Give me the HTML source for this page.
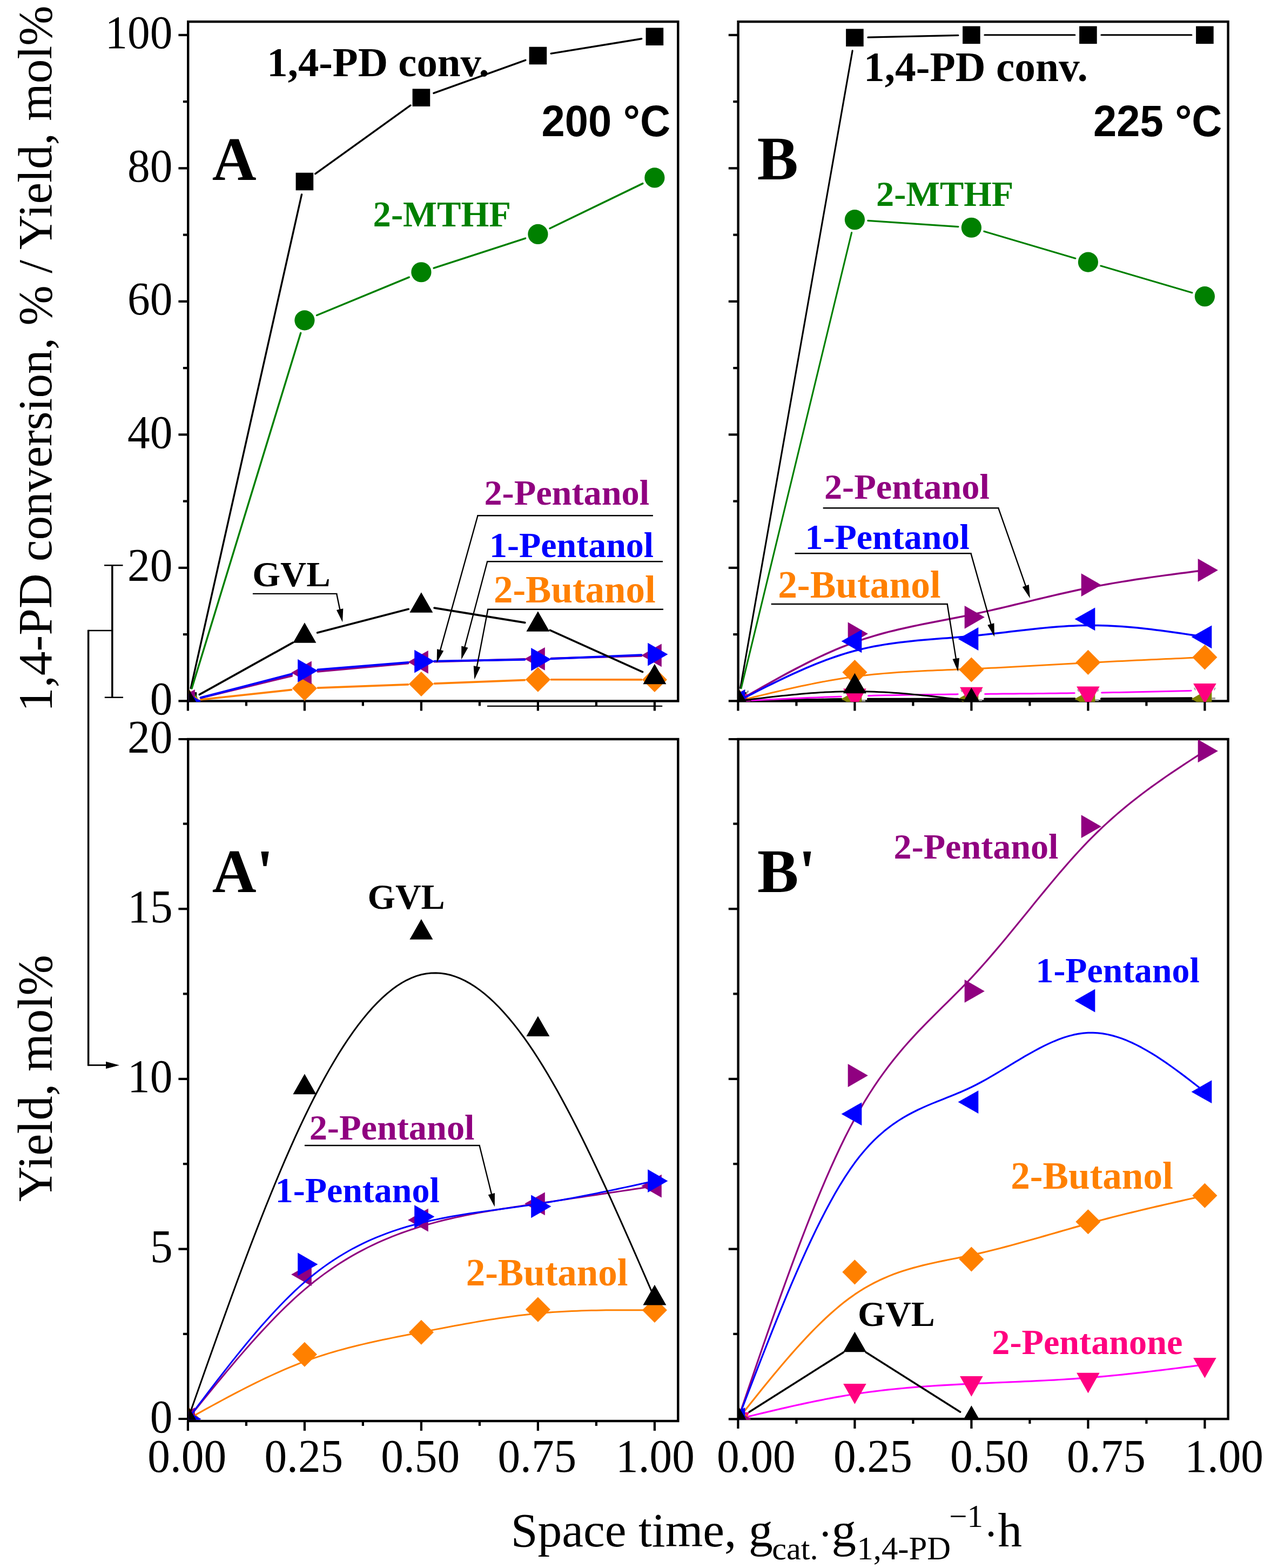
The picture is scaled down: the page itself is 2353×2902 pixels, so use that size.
<!DOCTYPE html><html lang="en"><head><meta charset="utf-8"><title>1,4-PD conversion and product yields vs. space time</title>
<style>html,body{margin:0;padding:0;background:#fff}svg{display:block}</style></head><body>
<svg width="2353" height="2902" viewBox="0 0 2353 2902">
<rect width="2353" height="2902" fill="#fff"/>
<defs><clipPath id="cA"><rect x="349.6" y="38.2" width="907.6" height="1260.7"/></clipPath><clipPath id="cB"><rect x="1368" y="38.2" width="907.5" height="1260.7"/></clipPath><clipPath id="cA2"><rect x="349.6" y="1366.1" width="907.6" height="1261.7"/></clipPath><clipPath id="cB2"><rect x="1368" y="1366.1" width="907.5" height="1261.7"/></clipPath></defs>
<rect x="348.2" y="40.1" width="907.1" height="1257.4" fill="none" stroke="#000" stroke-width="4.4"/><path d="M330.4 1297.4H348.2M330.4 1050.88H348.2M330.4 804.36H348.2M330.4 557.84H348.2M330.4 311.32H348.2M330.4 64.8H348.2M338.9 1174.14H348.2M338.9 927.62H348.2M338.9 681.1H348.2M338.9 434.58H348.2M338.9 188.06H348.2M347.9 1297.5V1315.5M455.9 1297.5V1306.5M563.9 1297.5V1315.5M671.9 1297.5V1306.5M779.9 1297.5V1315.5M887.9 1297.5V1306.5M995.9 1297.5V1315.5M1103.9 1297.5V1306.5M1211.9 1297.5V1315.5" fill="none" stroke="#000" stroke-width="4.2"/>
<rect x="1366.6" y="40.1" width="907" height="1257.4" fill="none" stroke="#000" stroke-width="4.4"/><path d="M1348.8 1297.4H1366.6M1348.8 1050.88H1366.6M1348.8 804.36H1366.6M1348.8 557.84H1366.6M1348.8 311.32H1366.6M1348.8 64.8H1366.6M1357.3 1174.14H1366.6M1357.3 927.62H1366.6M1357.3 681.1H1366.6M1357.3 434.58H1366.6M1357.3 188.06H1366.6M1366.4 1297.5V1315.5M1474.4 1297.5V1306.5M1582.4 1297.5V1315.5M1690.4 1297.5V1306.5M1798.4 1297.5V1315.5M1906.4 1297.5V1306.5M2014.4 1297.5V1315.5M2122.4 1297.5V1306.5M2230.4 1297.5V1315.5" fill="none" stroke="#000" stroke-width="4.2"/>
<rect x="348.2" y="1368" width="907.1" height="1262" fill="none" stroke="#000" stroke-width="4.4"/><path d="M330.4 2626H348.2M330.4 2311.55H348.2M330.4 1996.8H348.2M330.4 1682.05H348.2M330.4 1368H348.2M338.9 2468.93H348.2M338.9 2154.18H348.2M338.9 1839.43H348.2M338.9 1524.68H348.2M347.9 2630V2648M455.9 2630V2639M563.9 2630V2648M671.9 2630V2639M779.9 2630V2648M887.9 2630V2639M995.9 2630V2648M1103.9 2630V2639M1211.9 2630V2648" fill="none" stroke="#000" stroke-width="4.2"/>
<rect x="1366.6" y="1368" width="907" height="1258.1" fill="none" stroke="#000" stroke-width="4.4"/><path d="M1348.8 2626.3H1366.6M1348.8 2311.55H1366.6M1348.8 1996.8H1366.6M1348.8 1682.05H1366.6M1348.8 1368H1366.6M1357.3 2468.93H1366.6M1357.3 2154.18H1366.6M1357.3 1839.43H1366.6M1357.3 1524.68H1366.6M1366.4 2626.1V2644.1M1474.4 2626.1V2635.1M1582.4 2626.1V2644.1M1690.4 2626.1V2635.1M1798.4 2626.1V2644.1M1906.4 2626.1V2635.1M2014.4 2626.1V2644.1M2122.4 2626.1V2635.1M2230.4 2626.1V2644.1" fill="none" stroke="#000" stroke-width="4.2"/>
<text transform="translate(277.77 1321.9) scale(1.0000 1.0360)" font-family="'Liberation Serif','DejaVu Serif',serif" font-size="83.3" fill="#000">0</text>
<text transform="translate(236.12 1075.38) scale(1.0000 1.0360)" font-family="'Liberation Serif','DejaVu Serif',serif" font-size="83.3" fill="#000">20</text>
<text transform="translate(236.12 828.86) scale(1.0000 1.0360)" font-family="'Liberation Serif','DejaVu Serif',serif" font-size="83.3" fill="#000">40</text>
<text transform="translate(236.12 582.34) scale(1.0000 1.0360)" font-family="'Liberation Serif','DejaVu Serif',serif" font-size="83.3" fill="#000">60</text>
<text transform="translate(236.12 335.82) scale(1.0000 1.0360)" font-family="'Liberation Serif','DejaVu Serif',serif" font-size="83.3" fill="#000">80</text>
<text transform="translate(194.47 89.3) scale(1.0000 1.0360)" font-family="'Liberation Serif','DejaVu Serif',serif" font-size="83.3" fill="#000">100</text>
<text transform="translate(277.77 2650.8) scale(1.0000 1.0360)" font-family="'Liberation Serif','DejaVu Serif',serif" font-size="83.3" fill="#000">0</text>
<text transform="translate(277.98 2336.05) scale(1.0000 1.0360)" font-family="'Liberation Serif','DejaVu Serif',serif" font-size="83.3" fill="#000">5</text>
<text transform="translate(236.12 2021.3) scale(1.0000 1.0360)" font-family="'Liberation Serif','DejaVu Serif',serif" font-size="83.3" fill="#000">10</text>
<text transform="translate(236.33 1706.55) scale(1.0000 1.0360)" font-family="'Liberation Serif','DejaVu Serif',serif" font-size="83.3" fill="#000">15</text>
<text transform="translate(236.12 1392.8) scale(1.0000 1.0360)" font-family="'Liberation Serif','DejaVu Serif',serif" font-size="83.3" fill="#000">20</text>
<text transform="translate(273.31 2723.6) scale(1.0000 1.0360)" font-family="'Liberation Serif','DejaVu Serif',serif" font-size="83.3" fill="#000">0.00</text>
<text transform="translate(1327.01 2723.6) scale(1.0000 1.0360)" font-family="'Liberation Serif','DejaVu Serif',serif" font-size="83.3" fill="#000">0.00</text>
<text transform="translate(489.42 2723.6) scale(1.0000 1.0360)" font-family="'Liberation Serif','DejaVu Serif',serif" font-size="83.3" fill="#000">0.25</text>
<text transform="translate(1543.12 2723.6) scale(1.0000 1.0360)" font-family="'Liberation Serif','DejaVu Serif',serif" font-size="83.3" fill="#000">0.25</text>
<text transform="translate(705.31 2723.6) scale(1.0000 1.0360)" font-family="'Liberation Serif','DejaVu Serif',serif" font-size="83.3" fill="#000">0.50</text>
<text transform="translate(1759.01 2723.6) scale(1.0000 1.0360)" font-family="'Liberation Serif','DejaVu Serif',serif" font-size="83.3" fill="#000">0.50</text>
<text transform="translate(921.42 2723.6) scale(1.0000 1.0360)" font-family="'Liberation Serif','DejaVu Serif',serif" font-size="83.3" fill="#000">0.75</text>
<text transform="translate(1975.12 2723.6) scale(1.0000 1.0360)" font-family="'Liberation Serif','DejaVu Serif',serif" font-size="83.3" fill="#000">0.75</text>
<text transform="translate(1140.03 2723.6) scale(1.0000 1.0360)" font-family="'Liberation Serif','DejaVu Serif',serif" font-size="83.3" fill="#000">1.00</text>
<text transform="translate(2193.25 2723.6) scale(1.0000 1.0360)" font-family="'Liberation Serif','DejaVu Serif',serif" font-size="83.3" fill="#000">1.00</text>
<g transform="translate(94.7 0) rotate(-90)"><text transform="translate(-1317.22 0)" font-family="'Liberation Serif','DejaVu Serif',serif" font-size="89.35" fill="#000">1,4-PD conversion, % / Yield, mol%</text></g>
<g transform="translate(96.2 0) rotate(-90)"><text transform="translate(-2224 0)" font-family="'Liberation Serif','DejaVu Serif',serif" font-size="90.33" fill="#000">Yield, mol%</text></g>
<text transform="translate(945.76 2861.5)" font-family="'Liberation Serif','DejaVu Serif',serif" font-size="89.55" fill="#000">Space time, g</text>
<text transform="translate(1429.34 2886.3)" font-family="'Liberation Serif','DejaVu Serif',serif" font-size="60.19" fill="#000">cat.</text>
<text transform="translate(1514.6 2865.7)" font-family="'Liberation Serif','DejaVu Serif',serif" font-size="80" fill="#000">·</text>
<text transform="translate(1539.53 2861.5) scale(1.0187 1.0000)" font-family="'Liberation Serif','DejaVu Serif',serif" font-size="89.3" fill="#000">g</text>
<text transform="translate(1586.49 2886.3)" font-family="'Liberation Serif','DejaVu Serif',serif" font-size="60.69" fill="#000">1,4-PD</text>
<text transform="translate(1757.25 2825.9)" font-family="'Liberation Serif','DejaVu Serif',serif" font-size="58.95" fill="#000">−1</text>
<text transform="translate(1821.2 2865.7)" font-family="'Liberation Serif','DejaVu Serif',serif" font-size="80" fill="#000">·</text>
<text transform="translate(1847.41 2861.5) scale(0.9967 1.0000)" font-family="'Liberation Serif','DejaVu Serif',serif" font-size="89.3" fill="#000">h</text>
<path d="M193 1046.2H227.5M193.8 1290.8H228M207.8 1167H163.6M163.6 1971.4H198" fill="none" stroke="#000" stroke-width="2.6"/>
<path d="M207.8 1045V1292M163.6 1165.7V1972.7" fill="none" stroke="#000" stroke-width="3.5"/>
<polygon points="221,1971.4 196,1964.8 196,1978" fill="#000"/>
<line x1="902" y1="1306.9" x2="1226.2" y2="1306.9" stroke="#000" stroke-width="2.2"/>
<g clip-path="url(#cA)">
<path d="M353.27 1273.5L558.53 359.88M583.79 321.67L760.01 194.97M802.96 172.38L972.84 111.3M1020.08 99.06L1187.72 71.7" fill="none" stroke="#000" stroke-width="3.4" stroke-linecap="round"/>
<rect x="331.6" y="1281.1" width="32.6" height="32.6" fill="#000"/><rect x="547.6" y="319.67" width="32.6" height="32.6" fill="#000"/><rect x="763.6" y="164.36" width="32.6" height="32.6" fill="#000"/><rect x="979.6" y="86.71" width="32.6" height="32.6" fill="#000"/><rect x="1195.6" y="51.46" width="32.6" height="32.6" fill="#000"/>
<path d="M355.08 1273.98L556.72 616.27M586.55 583.5L757.25 513.07M803.2 496.15L972.6 441.05M1017.95 422.8L1189.85 339.62" fill="none" stroke="#008000" stroke-width="3.4" stroke-linecap="round"/>
<circle cx="347.9" cy="1297.4" r="18.6" fill="#008000"/><circle cx="563.9" cy="592.85" r="18.6" fill="#008000"/><circle cx="779.9" cy="503.73" r="18.6" fill="#008000"/><circle cx="995.9" cy="433.47" r="18.6" fill="#008000"/><circle cx="1211.9" cy="328.95" r="18.6" fill="#008000"/>
<path d="M372.26 1294.76L539.54 1276.62M588.38 1273.07L755.42 1266.88M804.38 1265.03L971.42 1258.65M1020.4 1257.74L1187.4 1257.93" fill="none" stroke="#FF8000" stroke-width="3.7" stroke-linecap="round"/>
<polygon points="347.9,1274.35 370.95,1297.4 347.9,1320.45 324.85,1297.4" fill="#FF8000"/><polygon points="563.9,1250.93 586.95,1273.98 563.9,1297.03 540.85,1273.98" fill="#FF8000"/><polygon points="779.9,1242.92 802.95,1265.97 779.9,1289.02 756.85,1265.97" fill="#FF8000"/><polygon points="995.9,1234.66 1018.95,1257.71 995.9,1280.76 972.85,1257.71" fill="#FF8000"/><polygon points="1211.9,1234.91 1234.95,1257.96 1211.9,1281.01 1188.85,1257.96" fill="#FF8000"/>
<path d="M371.71 1291.63L540.09 1250.79M588.3 1242.79L755.5 1227.52M804.39 1224.62L971.41 1220.05M1020.39 1218.65L1187.41 1213.69" fill="none" stroke="#900080" stroke-width="3.9" stroke-linecap="round"/>
<polygon points="360.8,1276 323.1,1297.4 360.8,1318.8" fill="#900080"/><polygon points="576.8,1223.61 539.1,1245.01 576.8,1266.41" fill="#900080"/><polygon points="792.8,1203.89 755.1,1225.29 792.8,1246.69" fill="#900080"/><polygon points="1008.8,1197.98 971.1,1219.38 1008.8,1240.78" fill="#900080"/><polygon points="1224.8,1191.57 1187.1,1212.97 1224.8,1234.37" fill="#900080"/>
<path d="M371.61 1291.24L540.19 1247.47M588.32 1239.37L755.48 1226.01M804.4 1223.64L971.4 1220.78M1020.38 1219.31L1187.42 1212.17" fill="none" stroke="#0000FF" stroke-width="3.9" stroke-linecap="round"/>
<polygon points="335.2,1276 372.4,1297.4 335.2,1318.8" fill="#0000FF"/><polygon points="551.2,1219.92 588.4,1241.32 551.2,1262.72" fill="#0000FF"/><polygon points="767.2,1202.66 804.4,1224.06 767.2,1245.46" fill="#0000FF"/><polygon points="983.2,1198.96 1020.4,1220.36 983.2,1241.76" fill="#0000FF"/><polygon points="1199.2,1189.72 1236.4,1211.12 1199.2,1232.52" fill="#0000FF"/>
<path d="M369.31 1285.49L542.49 1189.13M587.61 1171.06L756.19 1127.3M804.08 1125.07L971.72 1152.33M1018.24 1166.34L1189.56 1243.57" fill="none" stroke="#000" stroke-width="3.7" stroke-linecap="round"/>
<polygon points="347.9,1272.4 369.4,1310 326.4,1310" fill="#000"/><polygon points="563.9,1152.22 585.4,1189.82 542.4,1189.82" fill="#000"/><polygon points="779.9,1096.14 801.4,1133.74 758.4,1133.74" fill="#000"/><polygon points="995.9,1131.27 1017.4,1168.87 974.4,1168.87" fill="#000"/><polygon points="1211.9,1228.64 1233.4,1266.24 1190.4,1266.24" fill="#000"/>
</g>
<g clip-path="url(#cB)">
<path d="M1370.65 1273.27L1578.15 93.86M1606.89 69.17L1773.91 65.36M1822.9 64.8L1989.9 64.8M2038.9 64.8L2205.9 64.8" fill="none" stroke="#000" stroke-width="3.1" stroke-linecap="round"/>
<rect x="1350.1" y="1281.1" width="32.6" height="32.6" fill="#000"/><rect x="1566.1" y="53.43" width="32.6" height="32.6" fill="#000"/><rect x="1782.1" y="48.5" width="32.6" height="32.6" fill="#000"/><rect x="1998.1" y="48.5" width="32.6" height="32.6" fill="#000"/><rect x="2214.1" y="48.5" width="32.6" height="32.6" fill="#000"/>
<path d="M1372.17 1273.59L1576.63 430.53M1606.84 408.37L1773.96 419.62M1821.9 428.21L1990.9 478.17M2037.9 492.04L2206.9 541.8" fill="none" stroke="#008000" stroke-width="3.1" stroke-linecap="round"/>
<circle cx="1366.4" cy="1297.4" r="18.6" fill="#008000"/><circle cx="1582.4" cy="406.72" r="18.6" fill="#008000"/><circle cx="1798.4" cy="421.27" r="18.6" fill="#008000"/><circle cx="2014.4" cy="485.12" r="18.6" fill="#008000"/><circle cx="2230.4" cy="548.72" r="18.6" fill="#008000"/>
<path d="M1390.9 1296.98L1557.9 1294.12M1606.9 1293.7L1773.9 1293.7M1822.9 1293.63L1989.9 1293.16M2038.9 1292.95L2205.9 1291.99" fill="none" stroke="#000" stroke-width="3.6" stroke-linecap="round"/>
<path d="M1390.9 1296.97L1557.9 1294.01M1606.9 1293.58L1773.9 1293.58M1822.9 1293.58L1989.9 1293.58M2038.9 1293.58L2205.9 1293.58" fill="none" stroke="#000" stroke-width="3.8" stroke-linecap="round"/>
<polygon points="1595.3,1298.4 1595.3,1295 1601.8,1294.8 1602.3,1298.4" fill="#A0A0A0"/>
<polygon points="1562,1276.2 1564.2,1276.2 1566,1280.8 1564,1280.8" fill="#A0A0A0"/>
<polygon points="1602.8,1276.2 1600.6,1276.2 1598.8,1280.8 1600.8,1280.8" fill="#A0A0A0"/>
<polygon points="1811.3,1297.6 1811.3,1294.2 1817.8,1294 1818.3,1297.6" fill="#A0A0A0"/>
<polygon points="1778,1276.4 1780.2,1276.4 1782,1281 1780,1281" fill="#A0A0A0"/>
<polygon points="1818.8,1276.4 1816.6,1276.4 1814.8,1281 1816.8,1281" fill="#A0A0A0"/>
<polygon points="2027.3,1297.5 2027.3,1294.1 2033.8,1293.9 2034.3,1297.5" fill="#A0A0A0"/>
<polygon points="1994,1275.7 1996.2,1275.7 1998,1280.3 1996,1280.3" fill="#A0A0A0"/>
<polygon points="2034.8,1275.7 2032.6,1275.7 2030.8,1280.3 2032.8,1280.3" fill="#A0A0A0"/>
<polygon points="2243.3,1294.3 2243.3,1290.9 2249.8,1290.7 2250.3,1294.3" fill="#A0A0A0"/>
<polygon points="2210,1272.8 2212.2,1272.8 2214,1277.4 2212,1277.4" fill="#A0A0A0"/>
<polygon points="2250.8,1272.8 2248.6,1272.8 2246.8,1277.4 2248.8,1277.4" fill="#A0A0A0"/>
<polygon points="1380.6,1284.6 1383.2,1278.2 1386.2,1278 1386.2,1280.6 1382.4,1284.8" fill="#A0A0A0"/>
<polygon points="1379.3,1276 1341.6,1297.4 1379.3,1318.8" fill="#808000"/><polygon points="1595.3,1272.18 1557.6,1293.58 1595.3,1314.98" fill="#808000"/><polygon points="1811.3,1272.18 1773.6,1293.58 1811.3,1314.98" fill="#808000"/><polygon points="2027.3,1272.18 1989.6,1293.58 2027.3,1314.98" fill="#808000"/><polygon points="2243.3,1272.18 2205.6,1293.58 2243.3,1314.98" fill="#808000"/>
<path d="M1391.6 1296.2L1402.4 1295.69L1413.2 1295.18L1424 1294.68L1434.8 1294.18L1445.6 1293.68L1456.4 1293.2L1467.2 1292.72L1478 1292.25L1488.8 1291.79L1499.6 1291.34L1510.4 1290.9L1521.2 1290.48L1532 1290.07L1542.8 1289.67L1553.6 1289.29L1557.2 1289.17M1607.6 1287.65L1618.4 1287.37L1629.2 1287.11L1640 1286.87L1650.8 1286.64L1661.6 1286.43L1672.4 1286.22L1683.2 1286.04L1694 1285.86L1704.8 1285.69L1715.6 1285.54L1726.4 1285.39L1737.2 1285.26L1748 1285.13L1758.8 1285.01L1769.6 1284.89L1773.2 1284.85M1823.6 1284.39L1834.4 1284.3L1845.2 1284.21L1856 1284.12L1866.8 1284.03L1877.6 1283.94L1888.4 1283.85L1899.2 1283.76L1910 1283.66L1920.8 1283.56L1931.6 1283.46L1942.4 1283.35L1953.2 1283.23L1964 1283.11L1974.8 1282.98L1985.6 1282.84L1989.2 1282.79M2039.6 1282.01L2050.4 1281.82L2061.2 1281.62L2072 1281.4L2082.8 1281.18L2093.6 1280.96L2104.4 1280.72L2115.2 1280.48L2126 1280.24L2136.8 1279.99L2147.6 1279.73L2158.4 1279.47L2169.2 1279.21L2180 1278.94L2190.8 1278.68L2201.6 1278.4L2205.2 1278.31" fill="none" stroke="#FF00FF" stroke-width="3.0" stroke-linejoin="round" stroke-linecap="round"/>
<polygon points="1345.1,1284.8 1387.7,1284.8 1366.4,1322.4" fill="#FF0080"/><polygon points="1561.1,1274.5 1603.7,1274.5 1582.4,1312.1" fill="#FF0080"/><polygon points="1777.1,1271.76 1819.7,1271.76 1798.4,1309.36" fill="#FF0080"/><polygon points="1993.1,1270.54 2035.7,1270.54 2014.4,1308.14" fill="#FF0080"/><polygon points="2209.1,1265.08 2251.7,1265.08 2230.4,1302.68" fill="#FF0080"/>
<path d="M1366.4 1297.4L1375.4 1295.18L1384.4 1292.97L1393.4 1290.76L1402.4 1288.56L1411.4 1286.38L1420.4 1284.21L1429.4 1282.07L1438.4 1279.95L1447.4 1277.86L1456.4 1275.8L1465.4 1273.77L1474.4 1271.79L1483.4 1269.84L1492.4 1267.95L1501.4 1266.1L1510.4 1264.3L1519.4 1262.56L1528.4 1260.88L1537.4 1259.26L1546.4 1257.71L1555.4 1256.23L1564.4 1254.82L1573.4 1253.49L1582.4 1252.25L1591.4 1251.08L1600.4 1249.99L1609.4 1248.99L1618.4 1248.05L1627.4 1247.18L1636.4 1246.37L1645.4 1245.63L1654.4 1244.93L1663.4 1244.29L1672.4 1243.7L1681.4 1243.15L1690.4 1242.64L1699.4 1242.16L1708.4 1241.71L1717.4 1241.29L1726.4 1240.89L1735.4 1240.51L1744.4 1240.14L1753.4 1239.78L1762.4 1239.43L1771.4 1239.08L1780.4 1238.72L1789.4 1238.36L1798.4 1237.99L1807.4 1237.6L1816.4 1237.2L1825.4 1236.78L1834.4 1236.36L1843.4 1235.92L1852.4 1235.46L1861.4 1235L1870.4 1234.54L1879.4 1234.06L1888.4 1233.57L1897.4 1233.08L1906.4 1232.59L1915.4 1232.09L1924.4 1231.59L1933.4 1231.08L1942.4 1230.57L1951.4 1230.07L1960.4 1229.56L1969.4 1229.06L1978.4 1228.55L1987.4 1228.06L1996.4 1227.56L2005.4 1227.07L2014.4 1226.59L2023.4 1226.11L2032.4 1225.64L2041.4 1225.18L2050.4 1224.72L2059.4 1224.27L2068.4 1223.82L2077.4 1223.38L2086.4 1222.95L2095.4 1222.52L2104.4 1222.09L2113.4 1221.67L2122.4 1221.25L2131.4 1220.83L2140.4 1220.42L2149.4 1220.01L2158.4 1219.61L2167.4 1219.2L2176.4 1218.8L2185.4 1218.4L2194.4 1218L2203.4 1217.61L2212.4 1217.21L2221.4 1216.81L2230.4 1216.42" fill="none" stroke="#FF8000" stroke-width="3.0" stroke-linejoin="round" stroke-linecap="round"/>
<polygon points="1366.4,1274.35 1389.45,1297.4 1366.4,1320.45 1343.35,1297.4" fill="#FF8000"/><polygon points="1582.4,1221.1 1605.45,1244.15 1582.4,1267.2 1559.35,1244.15" fill="#FF8000"/><polygon points="1798.4,1216.42 1821.45,1239.47 1798.4,1262.52 1775.35,1239.47" fill="#FF8000"/><polygon points="2014.4,1202.86 2037.45,1225.91 2014.4,1248.96 1991.35,1225.91" fill="#FF8000"/><polygon points="2230.4,1193.37 2253.45,1216.42 2230.4,1239.47 2207.35,1216.42" fill="#FF8000"/>
<path d="M1366.4 1297.4L1375.4 1292.21L1384.4 1287.03L1393.4 1281.87L1402.4 1276.72L1411.4 1271.61L1420.4 1266.52L1429.4 1261.48L1438.4 1256.48L1447.4 1251.54L1456.4 1246.66L1465.4 1241.85L1474.4 1237.11L1483.4 1232.45L1492.4 1227.89L1501.4 1223.41L1510.4 1219.04L1519.4 1214.78L1528.4 1210.63L1537.4 1206.61L1546.4 1202.72L1555.4 1198.96L1564.4 1195.34L1573.4 1191.87L1582.4 1188.56L1591.4 1185.41L1600.4 1182.41L1609.4 1179.56L1618.4 1176.85L1627.4 1174.26L1636.4 1171.79L1645.4 1169.43L1654.4 1167.18L1663.4 1165.01L1672.4 1162.93L1681.4 1160.92L1690.4 1158.97L1699.4 1157.09L1708.4 1155.25L1717.4 1153.44L1726.4 1151.67L1735.4 1149.92L1744.4 1148.18L1753.4 1146.44L1762.4 1144.7L1771.4 1142.94L1780.4 1141.16L1789.4 1139.35L1798.4 1137.49L1807.4 1135.59L1816.4 1133.64L1825.4 1131.64L1834.4 1129.62L1843.4 1127.55L1852.4 1125.46L1861.4 1123.35L1870.4 1121.22L1879.4 1119.07L1888.4 1116.91L1897.4 1114.74L1906.4 1112.58L1915.4 1110.41L1924.4 1108.26L1933.4 1106.11L1942.4 1103.98L1951.4 1101.87L1960.4 1099.79L1969.4 1097.74L1978.4 1095.72L1987.4 1093.73L1996.4 1091.8L2005.4 1089.9L2014.4 1088.06L2023.4 1086.28L2032.4 1084.55L2041.4 1082.87L2050.4 1081.24L2059.4 1079.65L2068.4 1078.11L2077.4 1076.61L2086.4 1075.15L2095.4 1073.73L2104.4 1072.35L2113.4 1070.99L2122.4 1069.67L2131.4 1068.38L2140.4 1067.11L2149.4 1065.86L2158.4 1064.64L2167.4 1063.43L2176.4 1062.24L2185.4 1061.07L2194.4 1059.9L2203.4 1058.75L2212.4 1057.6L2221.4 1056.46L2230.4 1055.32" fill="none" stroke="#900080" stroke-width="3.5" stroke-linejoin="round" stroke-linecap="round"/>
<polygon points="1353.7,1276 1390.9,1297.4 1353.7,1318.8" fill="#900080"/><polygon points="1569.7,1151.51 1606.9,1172.91 1569.7,1194.31" fill="#900080"/><polygon points="1785.7,1120.94 1822.9,1142.34 1785.7,1163.74" fill="#900080"/><polygon points="2001.7,1061.28 2038.9,1082.68 2001.7,1104.08" fill="#900080"/><polygon points="2217.7,1033.92 2254.9,1055.32 2217.7,1076.72" fill="#900080"/>
<path d="M1366.4 1297.4L1375.4 1292.79L1384.4 1288.2L1393.4 1283.61L1402.4 1279.05L1411.4 1274.53L1420.4 1270.04L1429.4 1265.59L1438.4 1261.2L1447.4 1256.87L1456.4 1252.61L1465.4 1248.43L1474.4 1244.33L1483.4 1240.33L1492.4 1236.42L1501.4 1232.62L1510.4 1228.94L1519.4 1225.38L1528.4 1221.95L1537.4 1218.66L1546.4 1215.51L1555.4 1212.52L1564.4 1209.69L1573.4 1207.03L1582.4 1204.54L1591.4 1202.24L1600.4 1200.11L1609.4 1198.15L1618.4 1196.34L1627.4 1194.67L1636.4 1193.14L1645.4 1191.74L1654.4 1190.44L1663.4 1189.26L1672.4 1188.16L1681.4 1187.15L1690.4 1186.22L1699.4 1185.35L1708.4 1184.53L1717.4 1183.75L1726.4 1183.01L1735.4 1182.3L1744.4 1181.6L1753.4 1180.9L1762.4 1180.2L1771.4 1179.48L1780.4 1178.73L1789.4 1177.95L1798.4 1177.12L1807.4 1176.24L1816.4 1175.31L1825.4 1174.33L1834.4 1173.33L1843.4 1172.29L1852.4 1171.24L1861.4 1170.18L1870.4 1169.11L1879.4 1168.04L1888.4 1166.99L1897.4 1165.95L1906.4 1164.93L1915.4 1163.95L1924.4 1163.01L1933.4 1162.12L1942.4 1161.28L1951.4 1160.5L1960.4 1159.79L1969.4 1159.16L1978.4 1158.62L1987.4 1158.16L1996.4 1157.8L2005.4 1157.55L2014.4 1157.42L2023.4 1157.4L2032.4 1157.5L2041.4 1157.71L2050.4 1158.02L2059.4 1158.44L2068.4 1158.95L2077.4 1159.56L2086.4 1160.25L2095.4 1161.02L2104.4 1161.86L2113.4 1162.78L2122.4 1163.76L2131.4 1164.8L2140.4 1165.9L2149.4 1167.05L2158.4 1168.24L2167.4 1169.48L2176.4 1170.75L2185.4 1172.05L2194.4 1173.37L2203.4 1174.72L2212.4 1176.08L2221.4 1177.45L2230.4 1178.82" fill="none" stroke="#0000FF" stroke-width="3.5" stroke-linejoin="round" stroke-linecap="round"/>
<polygon points="1379.3,1276 1341.6,1297.4 1379.3,1318.8" fill="#0000FF"/><polygon points="1595.3,1165.44 1557.6,1186.84 1595.3,1208.24" fill="#0000FF"/><polygon points="1811.3,1161.12 1773.6,1182.52 1811.3,1203.92" fill="#0000FF"/><polygon points="2027.3,1124.39 1989.6,1145.79 2027.3,1167.19" fill="#0000FF"/><polygon points="2243.3,1157.42 2205.6,1178.82 2243.3,1200.22" fill="#0000FF"/>
<path d="M1366.4 1297.4L1375.4 1296.29L1384.4 1295.18L1393.4 1294.07L1402.4 1292.98L1411.4 1291.91L1420.4 1290.85L1429.4 1289.82L1438.4 1288.81L1447.4 1287.84L1456.4 1286.9L1465.4 1286L1474.4 1285.14L1483.4 1284.33L1492.4 1283.57L1501.4 1282.86L1510.4 1282.21L1519.4 1281.62L1528.4 1281.1L1537.4 1280.65L1546.4 1280.27L1555.4 1279.97L1564.4 1279.75L1573.4 1279.61L1582.4 1279.57L1591.4 1279.61L1600.4 1279.75L1609.4 1279.97L1618.4 1280.27L1627.4 1280.65L1636.4 1281.1L1645.4 1281.62L1654.4 1282.21L1663.4 1282.86L1672.4 1283.57L1681.4 1284.33L1690.4 1285.14L1699.4 1286L1708.4 1286.9L1717.4 1287.84L1726.4 1288.81L1735.4 1289.82L1744.4 1290.85L1753.4 1291.91L1762.4 1292.98L1771.4 1294.07L1780.4 1295.18L1789.4 1296.29L1798.4 1297.4" fill="none" stroke="#000" stroke-width="3.0" stroke-linejoin="round" stroke-linecap="round"/>
<polygon points="1366.4,1272.4 1387.9,1310 1344.9,1310" fill="#000"/><polygon points="1582.4,1245.65 1603.9,1283.25 1560.9,1283.25" fill="#000"/><polygon points="1798.4,1272.4 1819.9,1310 1776.9,1310" fill="#000"/>
</g>
<g clip-path="url(#cA2)">
<path d="M347.9 2626.3L356.9 2621.32L365.9 2616.34L374.9 2611.37L383.9 2606.43L392.9 2601.5L401.9 2596.6L410.9 2591.74L419.9 2586.92L428.9 2582.14L437.9 2577.41L446.9 2572.74L455.9 2568.14L464.9 2563.6L473.9 2559.13L482.9 2554.75L491.9 2550.45L500.9 2546.24L509.9 2542.13L518.9 2538.12L527.9 2534.22L536.9 2530.43L545.9 2526.76L554.9 2523.22L563.9 2519.81L572.9 2516.53L581.9 2513.39L590.9 2510.37L599.9 2507.46L608.9 2504.68L617.9 2502L626.9 2499.42L635.9 2496.93L644.9 2494.54L653.9 2492.23L662.9 2490.01L671.9 2487.85L680.9 2485.76L689.9 2483.73L698.9 2481.76L707.9 2479.84L716.9 2477.96L725.9 2476.12L734.9 2474.32L743.9 2472.54L752.9 2470.78L761.9 2469.03L770.9 2467.3L779.9 2465.57L788.9 2463.84L797.9 2462.11L806.9 2460.38L815.9 2458.66L824.9 2456.95L833.9 2455.26L842.9 2453.58L851.9 2451.92L860.9 2450.29L869.9 2448.69L878.9 2447.11L887.9 2445.57L896.9 2444.06L905.9 2442.6L914.9 2441.17L923.9 2439.8L932.9 2438.47L941.9 2437.2L950.9 2435.98L959.9 2434.82L968.9 2433.72L977.9 2432.69L986.9 2431.73L995.9 2430.84L1004.9 2430.02L1013.9 2429.28L1022.9 2428.61L1031.9 2428L1040.9 2427.46L1049.9 2426.97L1058.9 2426.54L1067.9 2426.17L1076.9 2425.84L1085.9 2425.56L1094.9 2425.33L1103.9 2425.14L1112.9 2424.98L1121.9 2424.86L1130.9 2424.77L1139.9 2424.71L1148.9 2424.67L1157.9 2424.66L1166.9 2424.66L1175.9 2424.68L1184.9 2424.72L1193.9 2424.76L1202.9 2424.81L1211.9 2424.86" fill="none" stroke="#FF8000" stroke-width="3.0" stroke-linejoin="round" stroke-linecap="round"/>
<polygon points="347.9,2603.25 370.95,2626.3 347.9,2649.35 324.85,2626.3" fill="#FF8000"/><polygon points="563.9,2483.64 586.95,2506.7 563.9,2529.75 540.85,2506.7" fill="#FF8000"/><polygon points="779.9,2442.73 802.95,2465.78 779.9,2488.83 756.85,2465.78" fill="#FF8000"/><polygon points="995.9,2400.55 1018.95,2423.6 995.9,2446.65 972.85,2423.6" fill="#FF8000"/><polygon points="1211.9,2401.81 1234.95,2424.86 1211.9,2447.91 1188.85,2424.86" fill="#FF8000"/>
<path d="M347.9 2626.3L356.9 2615.15L365.9 2604.02L374.9 2592.91L383.9 2581.84L392.9 2570.81L401.9 2559.85L410.9 2548.96L419.9 2538.15L428.9 2527.44L437.9 2516.84L446.9 2506.36L455.9 2496.01L464.9 2485.8L473.9 2475.76L482.9 2465.88L491.9 2456.18L500.9 2446.68L509.9 2437.38L518.9 2428.29L527.9 2419.44L536.9 2410.83L545.9 2402.47L554.9 2394.38L563.9 2386.57L572.9 2379.04L581.9 2371.79L590.9 2364.82L599.9 2358.12L608.9 2351.68L617.9 2345.5L626.9 2339.56L635.9 2333.86L644.9 2328.4L653.9 2323.16L662.9 2318.15L671.9 2313.35L680.9 2308.75L689.9 2304.35L698.9 2300.15L707.9 2296.13L716.9 2292.29L725.9 2288.61L734.9 2285.11L743.9 2281.76L752.9 2278.56L761.9 2275.5L770.9 2272.58L779.9 2269.79L788.9 2267.13L797.9 2264.58L806.9 2262.14L815.9 2259.8L824.9 2257.57L833.9 2255.44L842.9 2253.4L851.9 2251.44L860.9 2249.56L869.9 2247.75L878.9 2246.02L887.9 2244.35L896.9 2242.74L905.9 2241.18L914.9 2239.67L923.9 2238.21L932.9 2236.78L941.9 2235.39L950.9 2234.02L959.9 2232.67L968.9 2231.35L977.9 2230.03L986.9 2228.72L995.9 2227.41L1004.9 2226.09L1013.9 2224.78L1022.9 2223.45L1031.9 2222.13L1040.9 2220.8L1049.9 2219.47L1058.9 2218.13L1067.9 2216.79L1076.9 2215.45L1085.9 2214.1L1094.9 2212.76L1103.9 2211.41L1112.9 2210.06L1121.9 2208.7L1130.9 2207.35L1139.9 2205.99L1148.9 2204.63L1157.9 2203.27L1166.9 2201.91L1175.9 2200.55L1184.9 2199.18L1193.9 2197.82L1202.9 2196.46L1211.9 2195.09" fill="none" stroke="#900080" stroke-width="3.0" stroke-linejoin="round" stroke-linecap="round"/>
<polygon points="360.8,2604.9 323.1,2626.3 360.8,2647.7" fill="#900080"/><polygon points="576.8,2337.36 539.1,2358.76 576.8,2380.16" fill="#900080"/><polygon points="792.8,2236.64 755.1,2258.04 792.8,2279.44" fill="#900080"/><polygon points="1008.8,2206.43 971.1,2227.83 1008.8,2249.23" fill="#900080"/><polygon points="1224.8,2173.69 1187.1,2195.09 1224.8,2216.49" fill="#900080"/>
<path d="M347.9 2626.3L356.9 2614.37L365.9 2602.45L374.9 2590.56L383.9 2578.72L392.9 2566.93L401.9 2555.21L410.9 2543.58L419.9 2532.05L428.9 2520.63L437.9 2509.35L446.9 2498.21L455.9 2487.22L464.9 2476.41L473.9 2465.78L482.9 2455.35L491.9 2445.14L500.9 2435.16L509.9 2425.43L518.9 2415.95L527.9 2406.74L536.9 2397.82L545.9 2389.2L554.9 2380.9L563.9 2372.93L572.9 2365.29L581.9 2358L590.9 2351.02L599.9 2344.37L608.9 2338.02L617.9 2331.97L626.9 2326.2L635.9 2320.72L644.9 2315.51L653.9 2310.55L662.9 2305.85L671.9 2301.39L680.9 2297.16L689.9 2293.15L698.9 2289.36L707.9 2285.77L716.9 2282.37L725.9 2279.17L734.9 2276.13L743.9 2273.27L752.9 2270.56L761.9 2268L770.9 2265.58L779.9 2263.29L788.9 2261.12L797.9 2259.06L806.9 2257.11L815.9 2255.26L824.9 2253.5L833.9 2251.82L842.9 2250.22L851.9 2248.7L860.9 2247.23L869.9 2245.83L878.9 2244.47L887.9 2243.16L896.9 2241.88L905.9 2240.63L914.9 2239.4L923.9 2238.19L932.9 2236.98L941.9 2235.77L950.9 2234.56L959.9 2233.33L968.9 2232.08L977.9 2230.81L986.9 2229.49L995.9 2228.14L1004.9 2226.74L1013.9 2225.29L1022.9 2223.8L1031.9 2222.26L1040.9 2220.68L1049.9 2219.07L1058.9 2217.41L1067.9 2215.73L1076.9 2214.01L1085.9 2212.25L1094.9 2210.47L1103.9 2208.67L1112.9 2206.83L1121.9 2204.98L1130.9 2203.11L1139.9 2201.21L1148.9 2199.3L1157.9 2197.38L1166.9 2195.44L1175.9 2193.5L1184.9 2191.54L1193.9 2189.58L1202.9 2187.62L1211.9 2185.65" fill="none" stroke="#0000FF" stroke-width="3.0" stroke-linejoin="round" stroke-linecap="round"/>
<polygon points="335.2,2604.9 372.4,2626.3 335.2,2647.7" fill="#0000FF"/><polygon points="551.2,2318.48 588.4,2339.88 551.2,2361.28" fill="#0000FF"/><polygon points="767.2,2230.35 804.4,2251.75 767.2,2273.15" fill="#0000FF"/><polygon points="983.2,2211.46 1020.4,2232.86 983.2,2254.26" fill="#0000FF"/><polygon points="1199.2,2164.25 1236.4,2185.65 1199.2,2207.05" fill="#0000FF"/>
<path d="M347.9 2626.3L356.9 2600.73L365.9 2575.18L374.9 2549.69L383.9 2524.26L392.9 2498.93L401.9 2473.71L410.9 2448.64L419.9 2423.73L428.9 2399.02L437.9 2374.51L446.9 2350.25L455.9 2326.24L464.9 2302.52L473.9 2279.1L482.9 2256.02L491.9 2233.29L500.9 2210.94L509.9 2188.99L518.9 2167.47L527.9 2146.4L536.9 2125.81L545.9 2105.71L554.9 2086.13L563.9 2067.09L572.9 2048.63L581.9 2030.74L590.9 2013.44L599.9 1996.73L608.9 1980.64L617.9 1965.16L626.9 1950.31L635.9 1936.1L644.9 1922.54L653.9 1909.64L662.9 1897.41L671.9 1885.85L680.9 1874.98L689.9 1864.82L698.9 1855.36L707.9 1846.61L716.9 1838.6L725.9 1831.33L734.9 1824.8L743.9 1819.03L752.9 1814.04L761.9 1809.82L770.9 1806.39L779.9 1803.75L788.9 1801.93L797.9 1800.9L806.9 1800.66L815.9 1801.19L824.9 1802.49L833.9 1804.55L842.9 1807.35L851.9 1810.88L860.9 1815.14L869.9 1820.11L878.9 1825.78L887.9 1832.15L896.9 1839.19L905.9 1846.9L914.9 1855.27L923.9 1864.29L932.9 1873.95L941.9 1884.24L950.9 1895.14L959.9 1906.64L968.9 1918.74L977.9 1931.43L986.9 1944.68L995.9 1958.51L1004.9 1972.88L1013.9 1987.77L1022.9 2003.18L1031.9 2019.07L1040.9 2035.42L1049.9 2052.2L1058.9 2069.4L1067.9 2086.99L1076.9 2104.95L1085.9 2123.25L1094.9 2141.87L1103.9 2160.8L1112.9 2180L1121.9 2199.45L1130.9 2219.13L1139.9 2239.02L1148.9 2259.09L1157.9 2279.33L1166.9 2299.7L1175.9 2320.19L1184.9 2340.77L1193.9 2361.42L1202.9 2382.11L1211.9 2402.83" fill="none" stroke="#000" stroke-width="3.0" stroke-linejoin="round" stroke-linecap="round"/>
<polygon points="347.9,2601.3 369.4,2638.9 326.4,2638.9" fill="#000"/><polygon points="563.9,1987.54 585.4,2025.14 542.4,2025.14" fill="#000"/><polygon points="779.9,1701.12 801.4,1738.72 758.4,1738.72" fill="#000"/><polygon points="995.9,1880.52 1017.4,1918.12 974.4,1918.12" fill="#000"/><polygon points="1211.9,2377.83 1233.4,2415.43 1190.4,2415.43" fill="#000"/>
</g>
<g clip-path="url(#cB2)">
<path d="M1366.4 2626.3L1375.4 2624.11L1384.4 2621.92L1393.4 2619.73L1402.4 2617.56L1411.4 2615.39L1420.4 2613.24L1429.4 2611.11L1438.4 2609L1447.4 2606.9L1456.4 2604.84L1465.4 2602.8L1474.4 2600.79L1483.4 2598.82L1492.4 2596.88L1501.4 2594.98L1510.4 2593.12L1519.4 2591.31L1528.4 2589.55L1537.4 2587.83L1546.4 2586.17L1555.4 2584.57L1564.4 2583.02L1573.4 2581.54L1582.4 2580.12L1591.4 2578.76L1600.4 2577.47L1609.4 2576.25L1618.4 2575.08L1627.4 2573.97L1636.4 2572.92L1645.4 2571.92L1654.4 2570.97L1663.4 2570.07L1672.4 2569.22L1681.4 2568.42L1690.4 2567.65L1699.4 2566.93L1708.4 2566.24L1717.4 2565.59L1726.4 2564.98L1735.4 2564.39L1744.4 2563.84L1753.4 2563.31L1762.4 2562.8L1771.4 2562.32L1780.4 2561.86L1789.4 2561.42L1798.4 2560.99L1807.4 2560.57L1816.4 2560.17L1825.4 2559.78L1834.4 2559.39L1843.4 2559.01L1852.4 2558.63L1861.4 2558.25L1870.4 2557.87L1879.4 2557.49L1888.4 2557.1L1897.4 2556.7L1906.4 2556.29L1915.4 2555.87L1924.4 2555.44L1933.4 2554.99L1942.4 2554.52L1951.4 2554.03L1960.4 2553.52L1969.4 2552.99L1978.4 2552.42L1987.4 2551.83L1996.4 2551.21L2005.4 2550.55L2014.4 2549.86L2023.4 2549.13L2032.4 2548.36L2041.4 2547.56L2050.4 2546.73L2059.4 2545.87L2068.4 2544.97L2077.4 2544.05L2086.4 2543.1L2095.4 2542.13L2104.4 2541.13L2113.4 2540.11L2122.4 2539.07L2131.4 2538.01L2140.4 2536.94L2149.4 2535.85L2158.4 2534.74L2167.4 2533.62L2176.4 2532.5L2185.4 2531.36L2194.4 2530.21L2203.4 2529.06L2212.4 2527.9L2221.4 2526.74L2230.4 2525.58" fill="none" stroke="#FF00FF" stroke-width="3.2" stroke-linejoin="round" stroke-linecap="round"/>
<polygon points="1345.1,2613.7 1387.7,2613.7 1366.4,2651.3" fill="#FF0080"/><polygon points="1561.1,2561.07 1603.7,2561.07 1582.4,2598.67" fill="#FF0080"/><polygon points="1777.1,2547.1 1819.7,2547.1 1798.4,2584.7" fill="#FF0080"/><polygon points="1993.1,2540.87 2035.7,2540.87 2014.4,2578.47" fill="#FF0080"/><polygon points="2209.1,2512.98 2251.7,2512.98 2230.4,2550.58" fill="#FF0080"/>
<path d="M1366.4 2626.3L1375.4 2614.97L1384.4 2603.66L1393.4 2592.39L1402.4 2581.17L1411.4 2570.02L1420.4 2558.96L1429.4 2548.01L1438.4 2537.18L1447.4 2526.5L1456.4 2515.98L1465.4 2505.64L1474.4 2495.5L1483.4 2485.57L1492.4 2475.87L1501.4 2466.43L1510.4 2457.25L1519.4 2448.36L1528.4 2439.78L1537.4 2431.52L1546.4 2423.6L1555.4 2416.04L1564.4 2408.86L1573.4 2402.07L1582.4 2395.69L1591.4 2389.74L1600.4 2384.2L1609.4 2379.04L1618.4 2374.26L1627.4 2369.81L1636.4 2365.7L1645.4 2361.88L1654.4 2358.35L1663.4 2355.08L1672.4 2352.05L1681.4 2349.23L1690.4 2346.62L1699.4 2344.18L1708.4 2341.89L1717.4 2339.74L1726.4 2337.7L1735.4 2335.75L1744.4 2333.87L1753.4 2332.04L1762.4 2330.24L1771.4 2328.45L1780.4 2326.63L1789.4 2324.79L1798.4 2322.88L1807.4 2320.9L1816.4 2318.85L1825.4 2316.73L1834.4 2314.54L1843.4 2312.29L1852.4 2309.99L1861.4 2307.64L1870.4 2305.24L1879.4 2302.81L1888.4 2300.33L1897.4 2297.83L1906.4 2295.3L1915.4 2292.75L1924.4 2290.18L1933.4 2287.6L1942.4 2285.02L1951.4 2282.43L1960.4 2279.84L1969.4 2277.27L1978.4 2274.7L1987.4 2272.15L1996.4 2269.62L2005.4 2267.12L2014.4 2264.65L2023.4 2262.22L2032.4 2259.82L2041.4 2257.45L2050.4 2255.12L2059.4 2252.81L2068.4 2250.53L2077.4 2248.28L2086.4 2246.06L2095.4 2243.86L2104.4 2241.68L2113.4 2239.52L2122.4 2237.39L2131.4 2235.27L2140.4 2233.17L2149.4 2231.08L2158.4 2229L2167.4 2226.94L2176.4 2224.89L2185.4 2222.85L2194.4 2220.81L2203.4 2218.78L2212.4 2216.76L2221.4 2214.74L2230.4 2212.72" fill="none" stroke="#FF8000" stroke-width="3.2" stroke-linejoin="round" stroke-linecap="round"/>
<polygon points="1366.4,2603.25 1389.45,2626.3 1366.4,2649.35 1343.35,2626.3" fill="#FF8000"/><polygon points="1582.4,2331.31 1605.45,2354.36 1582.4,2377.41 1559.35,2354.36" fill="#FF8000"/><polygon points="1798.4,2307.39 1821.45,2330.44 1798.4,2353.49 1775.35,2330.44" fill="#FF8000"/><polygon points="2014.4,2238.14 2037.45,2261.19 2014.4,2284.24 1991.35,2261.19" fill="#FF8000"/><polygon points="2230.4,2189.67 2253.45,2212.72 2230.4,2235.77 2207.35,2212.72" fill="#FF8000"/>
<path d="M1366.4 2626.3L1375.4 2599.81L1384.4 2573.36L1393.4 2546.98L1402.4 2520.7L1411.4 2494.57L1420.4 2468.6L1429.4 2442.84L1438.4 2417.33L1447.4 2392.09L1456.4 2367.17L1465.4 2342.59L1474.4 2318.4L1483.4 2294.62L1492.4 2271.29L1501.4 2248.45L1510.4 2226.12L1519.4 2204.36L1528.4 2183.18L1537.4 2162.63L1546.4 2142.74L1555.4 2123.54L1564.4 2105.07L1573.4 2087.36L1582.4 2070.45L1591.4 2054.36L1600.4 2039.06L1609.4 2024.5L1618.4 2010.64L1627.4 1997.42L1636.4 1984.82L1645.4 1972.77L1654.4 1961.24L1663.4 1950.17L1672.4 1939.53L1681.4 1929.27L1690.4 1919.35L1699.4 1909.7L1708.4 1900.31L1717.4 1891.1L1726.4 1882.05L1735.4 1873.11L1744.4 1864.22L1753.4 1855.35L1762.4 1846.45L1771.4 1837.47L1780.4 1828.37L1789.4 1819.11L1798.4 1809.63L1807.4 1799.9L1816.4 1789.94L1825.4 1779.77L1834.4 1769.41L1843.4 1758.88L1852.4 1748.2L1861.4 1737.41L1870.4 1726.51L1879.4 1715.54L1888.4 1704.51L1897.4 1693.46L1906.4 1682.39L1915.4 1671.34L1924.4 1660.33L1933.4 1649.37L1942.4 1638.5L1951.4 1627.73L1960.4 1617.09L1969.4 1606.6L1978.4 1596.28L1987.4 1586.16L1996.4 1576.26L2005.4 1566.6L2014.4 1557.2L2023.4 1548.08L2032.4 1539.24L2041.4 1530.66L2050.4 1522.33L2059.4 1514.24L2068.4 1506.37L2077.4 1498.72L2086.4 1491.27L2095.4 1484.02L2104.4 1476.94L2113.4 1470.03L2122.4 1463.27L2131.4 1456.66L2140.4 1450.18L2149.4 1443.82L2158.4 1437.56L2167.4 1431.4L2176.4 1425.33L2185.4 1419.32L2194.4 1413.38L2203.4 1407.48L2212.4 1401.62L2221.4 1395.79L2230.4 1389.96" fill="none" stroke="#900080" stroke-width="3.2" stroke-linejoin="round" stroke-linecap="round"/>
<polygon points="1353.7,2604.9 1390.9,2626.3 1353.7,2647.7" fill="#900080"/><polygon points="1569.7,1969.11 1606.9,1990.51 1569.7,2011.91" fill="#900080"/><polygon points="1785.7,1812.99 1822.9,1834.39 1785.7,1855.79" fill="#900080"/><polygon points="2001.7,1508.31 2038.9,1529.71 2001.7,1551.11" fill="#900080"/><polygon points="2217.7,1368.56 2254.9,1389.96 2217.7,1411.36" fill="#900080"/>
<path d="M1366.4 2626.3L1375.4 2602.78L1384.4 2579.3L1393.4 2555.89L1402.4 2532.61L1411.4 2509.48L1420.4 2486.55L1429.4 2463.85L1438.4 2441.43L1447.4 2419.32L1456.4 2397.57L1465.4 2376.2L1474.4 2355.27L1483.4 2334.81L1492.4 2314.87L1501.4 2295.47L1510.4 2276.66L1519.4 2258.47L1528.4 2240.96L1537.4 2224.15L1546.4 2208.09L1555.4 2192.81L1564.4 2178.35L1573.4 2164.76L1582.4 2152.08L1591.4 2140.32L1600.4 2129.45L1609.4 2119.42L1618.4 2110.18L1627.4 2101.67L1636.4 2093.85L1645.4 2086.67L1654.4 2080.07L1663.4 2074L1672.4 2068.41L1681.4 2063.26L1690.4 2058.48L1699.4 2054.03L1708.4 2049.85L1717.4 2045.9L1726.4 2042.12L1735.4 2038.47L1744.4 2034.89L1753.4 2031.32L1762.4 2027.73L1771.4 2024.05L1780.4 2020.24L1789.4 2016.24L1798.4 2012.01L1807.4 2007.51L1816.4 2002.75L1825.4 1997.79L1834.4 1992.65L1843.4 1987.37L1852.4 1982L1861.4 1976.56L1870.4 1971.1L1879.4 1965.65L1888.4 1960.26L1897.4 1954.96L1906.4 1949.78L1915.4 1944.78L1924.4 1939.97L1933.4 1935.4L1942.4 1931.12L1951.4 1927.15L1960.4 1923.53L1969.4 1920.31L1978.4 1917.52L1987.4 1915.19L1996.4 1913.37L2005.4 1912.09L2014.4 1911.4L2023.4 1911.31L2032.4 1911.81L2041.4 1912.89L2050.4 1914.5L2059.4 1916.63L2068.4 1919.24L2077.4 1922.33L2086.4 1925.85L2095.4 1929.78L2104.4 1934.1L2113.4 1938.78L2122.4 1943.79L2131.4 1949.11L2140.4 1954.72L2149.4 1960.59L2158.4 1966.69L2167.4 1972.99L2176.4 1979.47L2185.4 1986.11L2194.4 1992.88L2203.4 1999.75L2212.4 2006.7L2221.4 2013.7L2230.4 2020.72" fill="none" stroke="#0000FF" stroke-width="3.2" stroke-linejoin="round" stroke-linecap="round"/>
<polygon points="1379.3,2604.9 1341.6,2626.3 1379.3,2647.7" fill="#0000FF"/><polygon points="1595.3,2040.24 1557.6,2061.64 1595.3,2083.04" fill="#0000FF"/><polygon points="1811.3,2018.21 1773.6,2039.61 1811.3,2061.01" fill="#0000FF"/><polygon points="2027.3,1830.62 1989.6,1852.02 2027.3,1873.42" fill="#0000FF"/><polygon points="2243.3,1999.32 2205.6,2020.72 2243.3,2042.12" fill="#0000FF"/>
<path d="M1387.11 2613.2L1561.69 2502.79M1603.11 2502.79L1777.69 2613.2" fill="none" stroke="#000" stroke-width="3.4" stroke-linecap="round"/>
<polygon points="1366.4,2601.3 1387.9,2638.9 1344.9,2638.9" fill="#000"/><polygon points="1582.4,2464.7 1603.9,2502.3 1560.9,2502.3" fill="#000"/><polygon points="1798.4,2601.3 1819.9,2638.9 1776.9,2638.9" fill="#000"/>
</g>
<line x1="884.5" y1="954.3" x2="1207.7" y2="954.3" stroke="#000" stroke-width="2.4" stroke-linecap="square"/><line x1="884.5" y1="954.3" x2="814.64" y2="1204.83" stroke="#000" stroke-width="2.4"/><polygon points="808.6,1226.5 809.11,1201.21 821.25,1204.59" fill="#000"/>
<line x1="902.2" y1="1039.3" x2="1225.8" y2="1039.3" stroke="#000" stroke-width="2.4" stroke-linecap="square"/><line x1="902.2" y1="1039.3" x2="859.87" y2="1198.95" stroke="#000" stroke-width="2.4"/><polygon points="854.1,1220.7 854.29,1195.4 866.47,1198.63" fill="#000"/>
<line x1="903.3" y1="1127.7" x2="1226.8" y2="1127.7" stroke="#000" stroke-width="2.4" stroke-linecap="square"/><line x1="903.3" y1="1127.7" x2="882.55" y2="1235.51" stroke="#000" stroke-width="2.4"/><polygon points="878.3,1257.6 876.74,1232.35 889.12,1234.73" fill="#000"/>
<line x1="469.1" y1="1098.9" x2="623.2" y2="1098.9" stroke="#000" stroke-width="2.4" stroke-linecap="square"/><line x1="623.2" y1="1098.9" x2="629.54" y2="1129.57" stroke="#000" stroke-width="2.4"/><polygon points="634.1,1151.6 622.97,1128.88 635.31,1126.33" fill="#000"/>
<line x1="1524.9" y1="940.3" x2="1848.3" y2="940.3" stroke="#000" stroke-width="2.4" stroke-linecap="square"/><line x1="1848.3" y1="940.3" x2="1899.45" y2="1086.07" stroke="#000" stroke-width="2.4"/><polygon points="1906.9,1107.3 1892.84,1086.27 1904.73,1082.1" fill="#000"/>
<line x1="1472.7" y1="1024.2" x2="1797.4" y2="1024.2" stroke="#000" stroke-width="2.4" stroke-linecap="square"/><line x1="1797.4" y1="1024.2" x2="1834.88" y2="1156.85" stroke="#000" stroke-width="2.4"/><polygon points="1841,1178.5 1828.28,1156.64 1840.4,1153.21" fill="#000"/>
<line x1="1428.9" y1="1118" x2="1753.7" y2="1118" stroke="#000" stroke-width="2.4" stroke-linecap="square"/><line x1="1753.7" y1="1118" x2="1770.06" y2="1220.68" stroke="#000" stroke-width="2.4"/><polygon points="1773.6,1242.9 1763.52,1219.7 1775.97,1217.71" fill="#000"/>
<line x1="565.1" y1="2120" x2="887.6" y2="2120" stroke="#000" stroke-width="2.4" stroke-linecap="square"/><line x1="887.6" y1="2120" x2="910.37" y2="2211.57" stroke="#000" stroke-width="2.4"/><polygon points="915.8,2233.4 903.77,2211.14 916,2208.1" fill="#000"/>
<text transform="translate(392.87 332.5)" font-family="'Liberation Serif','DejaVu Serif',serif" font-size="113.33" font-weight="bold" fill="#000">A</text>
<text transform="translate(494.36 141)" font-family="'Liberation Serif','DejaVu Serif',serif" font-size="76.75" font-weight="bold" fill="#000">1,4-PD conv.</text>
<text transform="translate(1002.58 252.3) scale(1.0000 1.0477)" font-family="'Liberation Sans','DejaVu Sans',sans-serif" font-size="77.71" font-weight="bold" fill="#000">200 °C</text>
<text transform="translate(690.57 419)" font-family="'Liberation Serif','DejaVu Serif',serif" font-size="66.64" font-weight="bold" fill="#008000">2-MTHF</text>
<text transform="translate(896.38 933.8)" font-family="'Liberation Serif','DejaVu Serif',serif" font-size="66.33" font-weight="bold" fill="#900080">2-Pentanol</text>
<text transform="translate(905.92 1031)" font-family="'Liberation Serif','DejaVu Serif',serif" font-size="65.99" font-weight="bold" fill="#0000FF">1-Pentanol</text>
<text transform="translate(913.98 1114.7)" font-family="'Liberation Serif','DejaVu Serif',serif" font-size="70.99" font-weight="bold" fill="#FF8000">2-Butanol</text>
<text transform="translate(467.34 1085.4)" font-family="'Liberation Serif','DejaVu Serif',serif" font-size="66.57" font-weight="bold" fill="#000">GVL</text>
<text transform="translate(1401.71 331.8)" font-family="'Liberation Serif','DejaVu Serif',serif" font-size="113.9" font-weight="bold" fill="#000">B</text>
<text transform="translate(1599.01 150.4)" font-family="'Liberation Serif','DejaVu Serif',serif" font-size="77.38" font-weight="bold" fill="#000">1,4-PD conv.</text>
<text transform="translate(2024.08 252.3) scale(1.0000 1.0482)" font-family="'Liberation Sans','DejaVu Sans',sans-serif" font-size="77.67" font-weight="bold" fill="#000">225 °C</text>
<text transform="translate(1622.08 380.9)" font-family="'Liberation Serif','DejaVu Serif',serif" font-size="66.37" font-weight="bold" fill="#008000">2-MTHF</text>
<text transform="translate(1525.88 922.9)" font-family="'Liberation Serif','DejaVu Serif',serif" font-size="66.37" font-weight="bold" fill="#900080">2-Pentanol</text>
<text transform="translate(1490.52 1016.3)" font-family="'Liberation Serif','DejaVu Serif',serif" font-size="65.99" font-weight="bold" fill="#0000FF">1-Pentanol</text>
<text transform="translate(1440.17 1106)" font-family="'Liberation Serif','DejaVu Serif',serif" font-size="71.4" font-weight="bold" fill="#FF8000">2-Butanol</text>
<text transform="translate(392.87 1651.1)" font-family="'Liberation Serif','DejaVu Serif',serif" font-size="113.33" font-weight="bold" fill="#000">A'</text>
<text transform="translate(680.56 1682.2)" font-family="'Liberation Serif','DejaVu Serif',serif" font-size="66.04" font-weight="bold" fill="#000">GVL</text>
<text transform="translate(572.68 2108.9)" font-family="'Liberation Serif','DejaVu Serif',serif" font-size="66.33" font-weight="bold" fill="#900080">2-Pentanol</text>
<text transform="translate(509.72 2225.4)" font-family="'Liberation Serif','DejaVu Serif',serif" font-size="65.95" font-weight="bold" fill="#0000FF">1-Pentanol</text>
<text transform="translate(862.68 2379.2)" font-family="'Liberation Serif','DejaVu Serif',serif" font-size="70.99" font-weight="bold" fill="#FF8000">2-Butanol</text>
<text transform="translate(1401.9 1650.5)" font-family="'Liberation Serif','DejaVu Serif',serif" font-size="114.49" font-weight="bold" fill="#000">B'</text>
<text transform="translate(1654.59 1588.7)" font-family="'Liberation Serif','DejaVu Serif',serif" font-size="66.11" font-weight="bold" fill="#900080">2-Pentanol</text>
<text transform="translate(1917.54 1818.4)" font-family="'Liberation Serif','DejaVu Serif',serif" font-size="65.77" font-weight="bold" fill="#0000FF">1-Pentanol</text>
<text transform="translate(1871.28 2200.1)" font-family="'Liberation Serif','DejaVu Serif',serif" font-size="71.16" font-weight="bold" fill="#FF8000">2-Butanol</text>
<text transform="translate(1588.07 2453.7)" font-family="'Liberation Serif','DejaVu Serif',serif" font-size="65.85" font-weight="bold" fill="#000">GVL</text>
<text transform="translate(1836.29 2506.1)" font-family="'Liberation Serif','DejaVu Serif',serif" font-size="66.23" font-weight="bold" fill="#FF0080">2-Pentanone</text>
</svg></body></html>
